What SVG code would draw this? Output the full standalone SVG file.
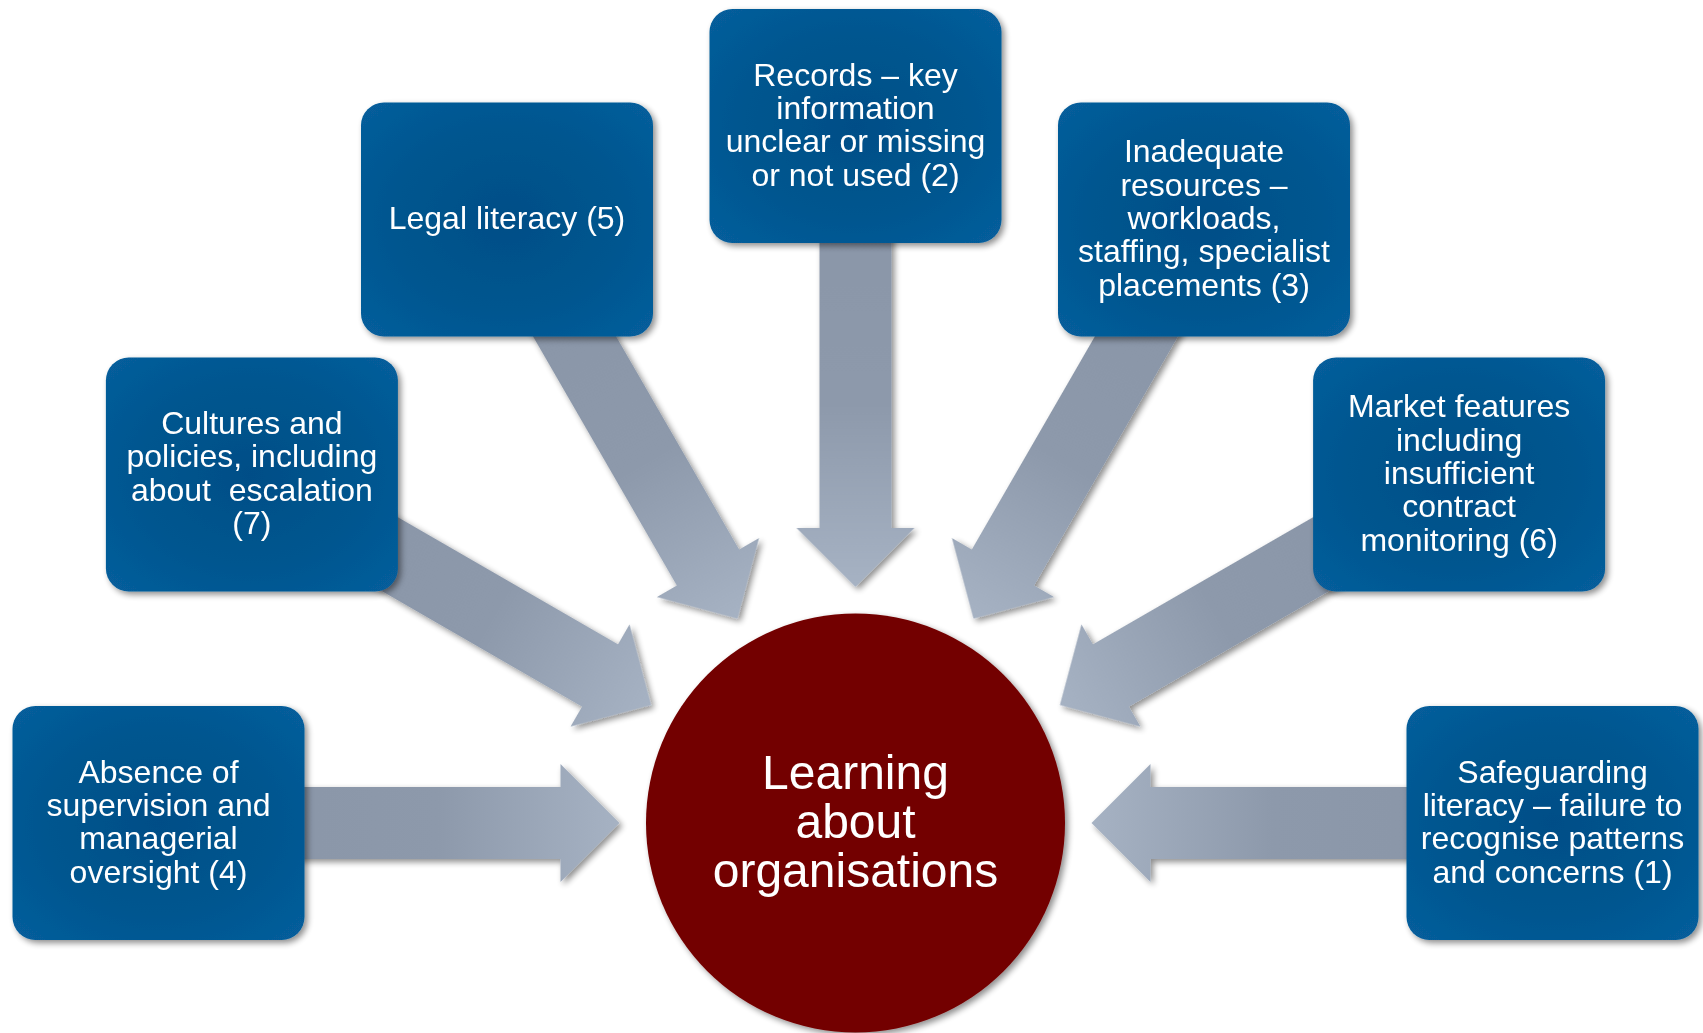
<svg xmlns="http://www.w3.org/2000/svg" width="1703" height="1033" viewBox="0 0 1703 1033">
  <defs>
    <filter id="shadow" x="-20%" y="-20%" width="140%" height="140%">
      <feGaussianBlur in="SourceAlpha" stdDeviation="3"/>
      <feOffset dx="3" dy="3" result="b"/>
      <feComponentTransfer><feFuncA type="linear" slope="0.45"/></feComponentTransfer>
      <feMerge><feMergeNode/><feMergeNode in="SourceGraphic"/></feMerge>
    </filter>
    <radialGradient id="boxGrad" cx="50%" cy="50%" r="70%">
      <stop offset="0" stop-color="#014e87"/>
      <stop offset="0.55" stop-color="#03568f"/>
      <stop offset="1" stop-color="#075e9c"/>
    </radialGradient>
    <linearGradient id="arrowGrad" x1="1" y1="0" x2="0" y2="0">
      <stop offset="0" stop-color="#8a96a8"/>
      <stop offset="0.5" stop-color="#8d99ab"/>
      <stop offset="1" stop-color="#a6b2c3"/>
    </linearGradient>
  </defs>
  <style>
    .box { fill: url(#boxGrad); }
    .arr { fill: url(#arrowGrad); }
    .t { font-family: "Liberation Sans", Arial, sans-serif; font-size: 32px; fill: #ffffff; text-anchor: middle; }
    .ct { font-family: "Liberation Sans", Arial, sans-serif; font-size: 48px; fill: #ffffff; text-anchor: middle; }
  </style>
  <rect width="1703" height="1033" fill="#ffffff"/>

  <g id="connectors" filter="url(#shadow)">
    <path class="arr" d="M600,-36 L295,-36 L295,-59 L236,0 L295,59 L295,36 L600,36 Z" transform="translate(855.5 823) rotate(180)"/>
    <path class="arr" d="M600,-36 L295,-36 L295,-59 L236,0 L295,59 L295,36 L600,36 Z" transform="translate(855.5 823) rotate(210)"/>
    <path class="arr" d="M600,-36 L295,-36 L295,-59 L236,0 L295,59 L295,36 L600,36 Z" transform="translate(855.5 823) rotate(240)"/>
    <path class="arr" d="M600,-36 L295,-36 L295,-59 L236,0 L295,59 L295,36 L600,36 Z" transform="translate(855.5 823) rotate(270)"/>
    <path class="arr" d="M600,-36 L295,-36 L295,-59 L236,0 L295,59 L295,36 L600,36 Z" transform="translate(855.5 823) rotate(300)"/>
    <path class="arr" d="M600,-36 L295,-36 L295,-59 L236,0 L295,59 L295,36 L600,36 Z" transform="translate(855.5 823) rotate(330)"/>
    <path class="arr" d="M600,-36 L295,-36 L295,-59 L236,0 L295,59 L295,36 L600,36 Z" transform="translate(855.5 823) rotate(0)"/>
  </g>

  <g id="center">
    <circle cx="855.5" cy="823" r="209.5" fill="#730000" filter="url(#shadow)"/>
    <text class="ct" x="855.5" y="788.5">Learning</text>
    <text class="ct" x="855.5" y="838">about</text>
    <text class="ct" x="855.5" y="887.3">organisations</text>
  </g>

  <g id="node-absence">
    <rect class="box" x="12.5" y="706" width="292" height="234" rx="23" filter="url(#shadow)"/>
    <text class="t" x="158.5" y="782.5">Absence of</text>
    <text class="t" x="158.5" y="815.8">supervision and</text>
    <text class="t" x="158.5" y="849.2">managerial</text>
    <text class="t" x="158.5" y="882.5">oversight (4)</text>
  </g>

  <g id="node-cultures">
    <rect class="box" x="105.9" y="357.5" width="292" height="234" rx="23" filter="url(#shadow)"/>
    <text class="t" x="251.9" y="434">Cultures and</text>
    <text class="t" x="251.9" y="467.3">policies, including</text>
    <text class="t" x="251.9" y="500.7">about&#160; escalation</text>
    <text class="t" x="251.9" y="534">(7)</text>
  </g>

  <g id="node-legal">
    <rect class="box" x="361" y="102.4" width="292" height="234" rx="23" filter="url(#shadow)"/>
    <text class="t" x="507" y="228.9">Legal literacy (5)</text>
  </g>

  <g id="node-records">
    <rect class="box" x="709.5" y="9" width="292" height="234" rx="23" filter="url(#shadow)"/>
    <text class="t" x="855.5" y="85.5">Records – key</text>
    <text class="t" x="855.5" y="118.8">information</text>
    <text class="t" x="855.5" y="152.2">unclear or missing</text>
    <text class="t" x="855.5" y="185.5">or not used (2)</text>
  </g>

  <g id="node-resources">
    <rect class="box" x="1058" y="102.4" width="292" height="234" rx="23" filter="url(#shadow)"/>
    <text class="t" x="1204" y="162.3">Inadequate</text>
    <text class="t" x="1204" y="195.6">resources –</text>
    <text class="t" x="1204" y="228.9">workloads,</text>
    <text class="t" x="1204" y="262.2">staffing, specialist</text>
    <text class="t" x="1204" y="295.5">placements (3)</text>
  </g>

  <g id="node-market">
    <rect class="box" x="1313.1" y="357.5" width="292" height="234" rx="23" filter="url(#shadow)"/>
    <text class="t" x="1459.1" y="417.4">Market features</text>
    <text class="t" x="1459.1" y="450.7">including</text>
    <text class="t" x="1459.1" y="484">insufficient</text>
    <text class="t" x="1459.1" y="517.3">contract</text>
    <text class="t" x="1459.1" y="550.6">monitoring (6)</text>
  </g>

  <g id="node-safeguarding">
    <rect class="box" x="1406.5" y="706" width="292" height="234" rx="23" filter="url(#shadow)"/>
    <text class="t" x="1552.5" y="782.5">Safeguarding</text>
    <text class="t" x="1552.5" y="815.8">literacy – failure to</text>
    <text class="t" x="1552.5" y="849.2">recognise patterns</text>
    <text class="t" x="1552.5" y="882.5">and concerns (1)</text>
  </g>
</svg>
